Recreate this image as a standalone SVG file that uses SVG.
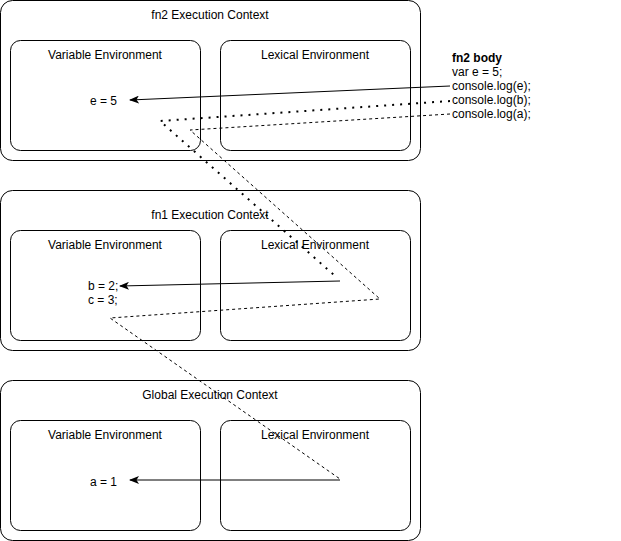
<svg xmlns="http://www.w3.org/2000/svg" width="621" height="541" viewBox="0 0 621 541">
<defs>
<marker id="arr" viewBox="0 0 10 8" refX="9" refY="4" markerWidth="10" markerHeight="8" markerUnits="userSpaceOnUse" orient="auto">
<path d="M0,0 L10,4 L0,8 L2.5,4 z" fill="#000"/>
</marker>
<style>
.ctx{fill:#fff;stroke:#000;stroke-width:1}
.env{fill:#fff;stroke:#000;stroke-width:1}
text{font-family:"Liberation Sans",Arial,Helvetica,sans-serif;font-size:12px;fill:#000}
.c{text-anchor:middle}
.solid{fill:none;stroke:#000;stroke-width:1}
.dot{fill:none;stroke:#000;stroke-width:2;stroke-dasharray:2 6}
.dash{fill:none;stroke:#000;stroke-width:1;stroke-dasharray:3 3}
</style>
</defs>
<rect width="621" height="541" fill="#fff"/>
<g id="fn2ctx">
<rect class="ctx" x="0.5" y="0.5" width="420" height="160" rx="12"/>
<text class="c" x="210" y="19">fn2 Execution Context</text>
</g>
<g id="fn2var">
<rect class="env" x="10.5" y="40.5" width="190" height="110" rx="10"/>
<text class="c" x="105" y="59">Variable Environment</text>
<text x="90" y="105">e = 5</text>
</g>
<g id="fn2lex">
<rect class="env" x="220.5" y="40.5" width="190" height="110" rx="10"/>
<text class="c" x="315" y="59">Lexical Environment</text>
</g>
<g id="fn1ctx">
<rect class="ctx" x="0.5" y="190.5" width="420" height="160" rx="12"/>
<text class="c" x="210" y="219">fn1 Execution Context</text>
</g>
<g id="fn1var">
<rect class="env" x="10.5" y="230.5" width="190" height="110" rx="10"/>
<text class="c" x="105" y="249">Variable Environment</text>
<text x="88" y="290">b = 2;</text>
<text x="88" y="304">c = 3;</text>
</g>
<g id="fn1lex">
<rect class="env" x="220.5" y="230.5" width="190" height="110" rx="10"/>
<text class="c" x="315" y="249">Lexical Environment</text>
</g>
<g id="globalctx">
<rect class="ctx" x="0.5" y="380.5" width="420" height="160" rx="12"/>
<text class="c" x="210" y="399">Global Execution Context</text>
</g>
<g id="globalvar">
<rect class="env" x="10.5" y="420.5" width="190" height="110" rx="10"/>
<text class="c" x="105" y="439">Variable Environment</text>
<text x="90" y="486">a = 1</text>
</g>
<g id="globallex">
<rect class="env" x="220.5" y="420.5" width="190" height="110" rx="10"/>
<text class="c" x="315" y="439">Lexical Environment</text>
</g>
<g id="fn2body">
<text x="452" y="62" font-weight="bold">fn2 body</text>
<text x="452" y="76">var e = 5;</text>
<text x="452" y="90">console.log(e);</text>
<text x="452" y="104">console.log(b);</text>
<text x="452" y="118">console.log(a);</text>
</g>
<g id="connectors">
<path class="solid" d="M450,86 L130,100" marker-end="url(#arr)"/>
<path class="dot" d="M450,101 L160,121 L334,275"/>
<path class="solid" d="M340,281 L120,286" marker-end="url(#arr)"/>
<path class="dash" d="M450,114 L190,130 L380,299 L110,318 L340,479"/>
<path class="solid" d="M340,480 L130,480" marker-end="url(#arr)"/>
</g>
</svg>
